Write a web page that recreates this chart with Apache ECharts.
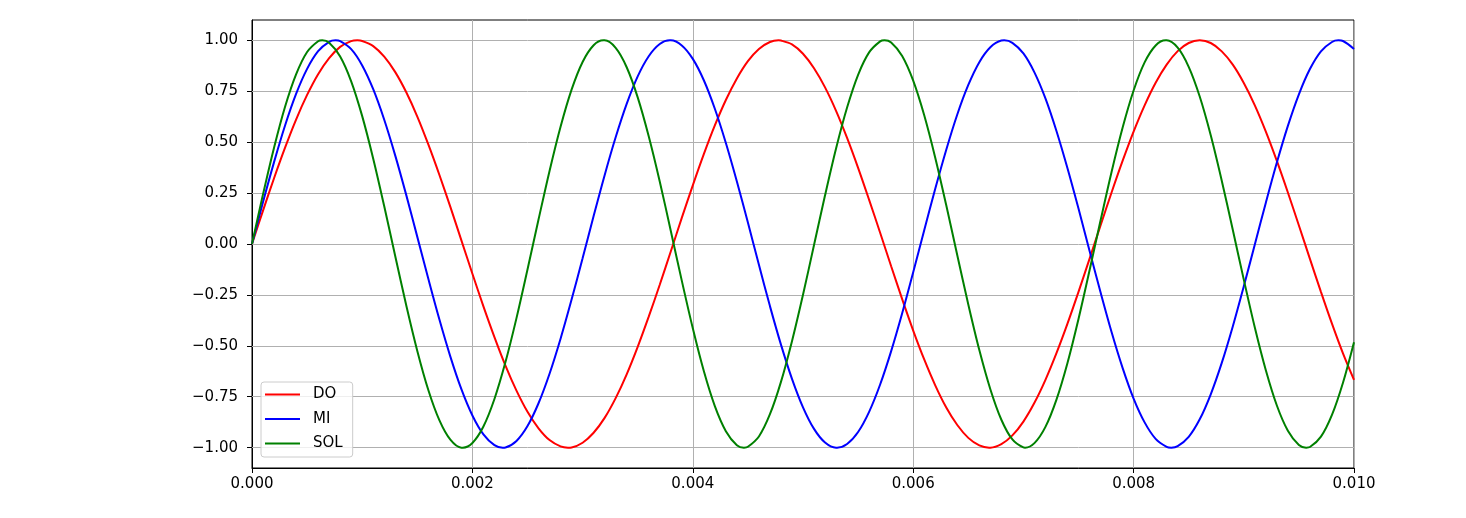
<!DOCTYPE html>
<html>
<head>
<meta charset="utf-8">
<script src="https://cdn.jsdelivr.net/npm/echarts@6/dist/echarts.min.js"></script>
<style>
html,body{margin:0;padding:0;background:#fff;}
#chart{width:1466px;height:518px;}
</style>
</head>
<body>
<div id="chart"></div>
<script>
// Sampling step of the time axis (seconds)
const timeStep = 0.0001;

// Series values (one value per 0.0001 s, from 0 to 0.010 s)
const doValues = [
  0, 0.164, 0.323, 0.473, 0.611, 0.732, 0.834, 0.913, 0.968, 0.996,
  0.997, 0.972, 0.920, 0.844, 0.745, 0.626, 0.489, 0.340, 0.182, 0.018,
  -0.146, -0.306, -0.457, -0.597, -0.720, -0.824, -0.905, -0.963, -0.994, -0.999,
  -0.976, -0.927, -0.854, -0.757, -0.640, -0.505, -0.357, -0.200, -0.037, 0.128,
  0.288, 0.441, 0.582, 0.707, 0.813, 0.898, 0.958, 0.992, 0.999, 0.980,
  0.934, 0.863, 0.769, 0.654, 0.521, 0.374, 0.217, 0.055, -0.109, -0.271,
  -0.425, -0.567, -0.694, -0.803, -0.889, -0.952, -0.989, -1.000, -0.983, -0.940,
  -0.872, -0.780, -0.667, -0.536, -0.391, -0.235, -0.073, 0.091, 0.253, 0.408,
  0.552, 0.681, 0.792, 0.881, 0.947, 0.987, 1.000, 0.987, 0.946, 0.881,
  0.791, 0.681, 0.552, 0.408, 0.253, 0.091, -0.073, -0.235, -0.391, -0.537,
  -0.667
];
const miValues = [
  0, 0.206, 0.402, 0.582, 0.737, 0.860, 0.947, 0.993, 0.996, 0.957,
  0.877, 0.760, 0.610, 0.434, 0.240, 0.035, -0.171, -0.370, -0.553, -0.713,
  -0.842, -0.935, -0.988, -0.999, -0.967, -0.894, -0.782, -0.637, -0.465, -0.273,
  -0.070, 0.137, 0.338, 0.524, 0.688, 0.823, 0.922, 0.982, 1.000, 0.975,
  0.909, 0.804, 0.664, 0.496, 0.307, 0.105, -0.102, -0.305, -0.494, -0.662,
  -0.802, -0.908, -0.975, -1.000, -0.982, -0.923, -0.824, -0.690, -0.526, -0.340,
  -0.139, 0.068, 0.271, 0.463, 0.636, 0.781, 0.893, 0.966, 0.999, 0.988,
  0.936, 0.843, 0.715, 0.555, 0.372, 0.174, -0.033, -0.237, -0.432, -0.608,
  -0.759, -0.876, -0.957, -0.996, -0.993, -0.947, -0.861, -0.738, -0.584, -0.405,
  -0.208, -0.002, 0.203, 0.400, 0.580, 0.735, 0.859, 0.946, 0.992, 0.997,
  0.958
];
const solValues = [
  0, 0.244, 0.473, 0.674, 0.833, 0.943, 0.996, 0.988, 0.921, 0.799,
  0.628, 0.419, 0.185, -0.060, -0.302, -0.525, -0.717, -0.865, -0.961, -1.000,
  -0.977, -0.896, -0.761, -0.580, -0.364, -0.125, 0.120, 0.359, 0.576, 0.758,
  0.894, 0.976, 1.000, 0.963, 0.868, 0.720, 0.529, 0.307, 0.065, -0.180,
  -0.414, -0.624, -0.796, -0.919, -0.988, -0.996, -0.945, -0.836, -0.677, -0.477,
  -0.249, -0.005, 0.239, 0.469, 0.670, 0.831, 0.941, 0.995, 0.989, 0.923,
  0.802, 0.632, 0.424, 0.190, -0.055, -0.297, -0.521, -0.713, -0.863, -0.960,
  -0.999, -0.978, -0.898, -0.764, -0.584, -0.368, -0.130, 0.115, 0.354, 0.571,
  0.754, 0.892, 0.975, 1.000, 0.964, 0.870, 0.724, 0.534, 0.311, 0.070,
  -0.175, -0.410, -0.620, -0.793, -0.917, -0.987, -0.997, -0.946, -0.839, -0.681,
  -0.482
];

// Peaks and troughs (time in s, value)
const doPeakTimes = [0.000956, 0.002867, 0.004778, 0.006689, 0.008600];
const doPeakValues = [1, -1, 1, -1, 1];
const miPeakTimes = [0.000758, 0.002275, 0.003792, 0.005309, 0.006826, 0.008342, 0.009859];
const miPeakValues = [1, -1, 1, -1, 1, -1, 1];
const solPeakTimes = [0.000638, 0.001913, 0.003189, 0.004464, 0.005740, 0.007015, 0.008291, 0.009566];
const solPeakValues = [1, -1, 1, -1, 1, -1, 1, -1];

const seriesNames = ['DO', 'MI', 'SOL'];
const seriesColors = ['#ff0000', '#0000ff', '#008000'];

// Tick labels
const xTicks = [0, 0.002, 0.004, 0.006, 0.008, 0.010];
const yTicks = [-1.00, -0.75, -0.50, -0.25, 0.00, 0.25, 0.50, 0.75, 1.00];

function toPairs(values, peakTimes, peakValues) {
  const pts = values.map((v, i) => [+(i * timeStep).toFixed(4), v]);
  peakTimes.forEach((t, j) => pts.push([t, peakValues[j]]));
  pts.sort((a, b) => a[0] - b[0]);
  return pts;
}
function fmtY(v) {
  const s = Math.abs(v).toFixed(2);
  return (v < -1e-9 ? '\u2212' : '') + s;
}

const font = 'DejaVu Sans';
const chart = echarts.init(document.getElementById('chart'), null, {renderer: 'canvas'});

const allValues = [doValues, miValues, solValues];
const allPeakTimes = [doPeakTimes, miPeakTimes, solPeakTimes];
const allPeakValues = [doPeakValues, miPeakValues, solPeakValues];
const lineSeries = seriesNames.map((name, k) => ({
  name: name,
  type: 'line',
  data: toPairs(allValues[k], allPeakTimes[k], allPeakValues[k]),
  smooth: 0.33,
  showSymbol: false,
  symbol: 'none',
  z: 3,
  lineStyle: {color: seriesColors[k], width: 2},
  itemStyle: {color: seriesColors[k]},
  emphasis: {disabled: true},
  silent: true
}));

const option = {
  animation: false,
  backgroundColor: '#ffffff',
  grid: {
    left: 252, top: 20, right: 112, bottom: 50,
    show: true, borderColor: '#000000', borderWidth: 1,
    backgroundColor: 'transparent'
  },
  legend: {
    data: seriesNames,
    orient: 'vertical',
    left: 261, top: 382,
    icon: 'rect',
    itemWidth: 35, itemHeight: 2,
    itemGap: 7.5,
    padding: [4, 10, 5, 4],
    backgroundColor: 'rgba(255,255,255,0.8)',
    borderColor: '#cccccc', borderWidth: 1, borderRadius: 3,
    textStyle: {fontFamily: font, fontSize: 15, color: '#000', lineHeight: 17, padding: [0, 0, 0, 8]},
    selectedMode: false
  },
  xAxis: {
    type: 'value',
    min: 0, max: 0.01, interval: 0.002,
    axisLine: {show: true, onZero: false, lineStyle: {color: '#000', width: 1}},
    axisTick: {show: true, inside: false, length: 5, lineStyle: {color: '#000', width: 1}},
    axisLabel: {
      show: true, margin: 9, color: '#000', fontFamily: font, fontSize: 15,
      showMinLabel: true, showMaxLabel: true,
      formatter: v => v.toFixed(3)
    },
    splitLine: {show: true, lineStyle: {color: '#b0b0b0', width: 1}}
  },
  yAxis: {
    type: 'value',
    min: -1.1, max: 1.1,
    axisLine: {show: true, onZero: false, lineStyle: {color: '#000', width: 1}},
    axisTick: {show: true, inside: false, length: 5, customValues: yTicks, lineStyle: {color: '#000', width: 1}},
    axisLabel: {
      show: true, margin: 14, color: '#000', fontFamily: font, fontSize: 15,
      customValues: yTicks, formatter: v => fmtY(v)
    },
    splitLine: {show: false}
  },
  series: [
    {
      type: 'line',
      data: [],
      z: 1,
      silent: true,
      markLine: {
        silent: true,
        z: 1,
        symbol: ['none', 'none'],
        label: {show: false},
        emphasis: {disabled: true},
        lineStyle: {color: '#b0b0b0', width: 1, type: 'solid'},
        data: yTicks.map(v => ({yAxis: v}))
      }
    }
  ].concat(lineSeries)
};
chart.setOption(option);
</script>
</body>
</html>
